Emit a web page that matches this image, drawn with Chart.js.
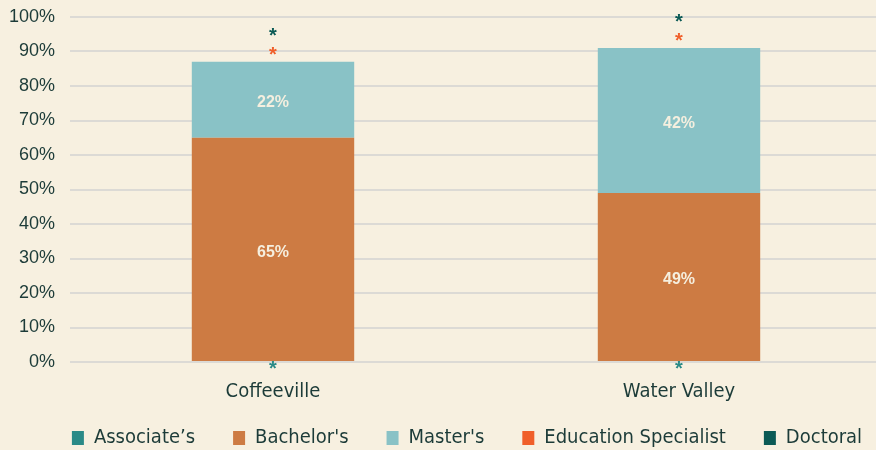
<!DOCTYPE html>
<html>
<head>
<meta charset="utf-8">
<script src="https://cdn.jsdelivr.net/npm/chart.js@4/dist/chart.umd.min.js"></script>
<style>
  html, body { margin: 0; padding: 0; background: #f7f0e0; }
  #wrap { width: 876px; height: 450px; }
</style>
</head>
<body>
<div id="wrap"><canvas id="graph" width="876" height="450"></canvas></div>
<script>
// data
const categories = ['Coffeeville', 'Water Valley'];
const associates = [0, 0];
const bachelors = [65, 49];
const masters = [22, 42];
const edSpecialist = [0, 0];
const doctoral = [0, 0];
const yMax = 100;
const yStep = 10;

// series shown as "*" instead of a number (suppressed / too small)
const starSeries = ['Associate’s', 'Education Specialist', 'Doctoral'];

const textColor = '#1c3b38';
const narrow = "'Liberation Sans Narrow', 'DejaVu Sans Condensed', 'Liberation Sans', sans-serif";

// draws value labels inside segments and asterisks for suppressed series
const labelPlugin = {
  id: 'segLabels',
  afterDatasetsDraw(chart) {
    const ctx = chart.ctx;
    ctx.save();
    ctx.textAlign = 'center';
    chart.data.datasets.forEach((ds, i) => {
      const meta = chart.getDatasetMeta(i);
      meta.data.forEach((bar, j) => {
        if (starSeries.includes(ds.label)) {
          let off = 5;
          if (ds.label === 'Education Specialist') off = -8.5;
          if (ds.label === 'Doctoral') off = -27.5;
          ctx.font = 'bold 20px "Liberation Sans", sans-serif';
          ctx.fillStyle = ds.backgroundColor;
          ctx.textBaseline = 'alphabetic';
          ctx.fillText('*', bar.x, bar.y + off + 7.5);
        } else if (ds.data[j] > 0) {
          ctx.font = 'bold 16px "Liberation Sans", sans-serif';
          ctx.fillStyle = '#f5efdf';
          ctx.textBaseline = 'middle';
          ctx.fillText(ds.data[j] + '%', bar.x, (bar.y + bar.base) / 2 + 3);
        }
      });
    });
    ctx.restore();
  }
};

// nudges: plot runs a little past the right edge, legend row sits lower-right
const layoutNudge = {
  id: 'layoutNudge',
  afterLayout(chart) {
    const x = chart.scales.x;
    x.right += 6; x.width += 6;
    x.configure();
    chart.chartArea.right += 6;
    chart.chartArea.width += 6;
    const lg = chart.legend;
    lg.left += 25; lg.right += 25;
    lg.top -= 14; lg.bottom -= 14;
  }
};

let ctx = document.getElementById('graph').getContext('2d');
let graph = new Chart(ctx, {
  type: 'bar',
  data: {
    labels: categories,
    datasets: [
      { label: 'Associate’s', data: associates, backgroundColor: '#2a8a87' },
      { label: "Bachelor's", data: bachelors, backgroundColor: '#cd7b43' },
      { label: "Master's", data: masters, backgroundColor: '#89c2c6' },
      { label: 'Education Specialist', data: edSpecialist, backgroundColor: '#f05f2a' },
      { label: 'Doctoral', data: doctoral, backgroundColor: '#0b5a55' }
    ]
  },
  options: {
    responsive: false,
    animation: false,
    layout: { padding: { top: 17, right: 0, bottom: -22, left: 8 } },
    datasets: { bar: { barPercentage: 0.4, categoryPercentage: 1, borderWidth: 0 } },
    scales: {
      x: {
        stacked: true,
        grid: { display: false, drawTicks: false },
        border: { display: false },
        ticks: { color: textColor, padding: 18, font: { family: narrow, size: 20 } },
        afterFit(s) {
          s.height = 42;
        }
      },
      y: {
        stacked: true,
        min: 0,
        max: yMax,
        border: { display: false },
        grid: { color: '#dcdad5', lineWidth: 2, drawTicks: false },
        ticks: {
          stepSize: yStep,
          color: textColor,
          padding: 15,
          font: { family: "'Liberation Sans', sans-serif", size: 18 },
          callback: (v) => v + '%'
        },
        afterFit(s) {
          s.width = 62;
          s.paddingTop = 0;
          s.paddingBottom = 0;
        }
      }
    },
    plugins: {
      tooltip: { enabled: false },
      legend: {
        position: 'bottom',
        labels: {
          color: textColor,
          boxWidth: 12,
          boxHeight: 14,
          padding: 38,
          font: { family: narrow, size: 20 }
        }
      }
    }
  },
  plugins: [labelPlugin, layoutNudge]
});
</script>
</body>
</html>
